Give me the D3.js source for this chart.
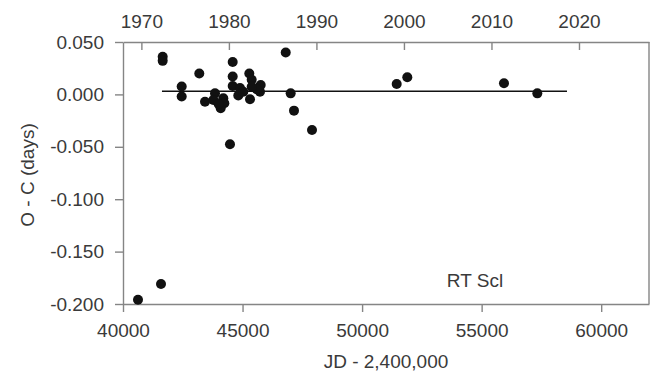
<!DOCTYPE html>
<html>
<head>
<meta charset="utf-8">
<script src="https://cdn.jsdelivr.net/npm/d3@7"></script>
<style>
  body { margin: 0; background: #fff; }
  text { font-family: "Liberation Sans", Arial, sans-serif; fill: #3a3a3a; }
</style>
</head>
<body>
<div id="chart"></div>
<script>
// O-C values (days), JD - 2,400,000
var jdValues = [40627, 41589, 41660, 41660, 42455, 42455, 43191, 43430, 43848, 43777,
                44195, 44237, 44086, 44000, 44588, 44588, 44588, 44475, 45283, 45383,
                44894, 44822, 45032, 45312, 45759, 45730, 45592, 45383, 46806, 47013,
                47152, 47905, 51447, 51891, 55935, 57329];
var ocValues = [-0.196, -0.181, 0.036, 0.032, 0.0075, -0.002, 0.020, -0.007, 0.001, -0.0053,
                -0.0037, -0.0085, -0.0133, -0.0092, 0.031, 0.017, 0.008, -0.0476, 0.020, 0.014,
                0.006, -0.001, 0.0026, -0.0047, 0.009, 0.0026, 0.005, 0.0073, 0.040, 0.001,
                -0.0155, -0.034, 0.0099, 0.0163, 0.0106, 0.001];

// linear ephemeris line
var fitJd = [41630, 58570];
var fitOc = 0.003;

var yTicks = [0.05, 0, -0.05, -0.1, -0.15, -0.2];
var xTicks = [40000, 45000, 50000, 55000, 60000];
var yearTicks = [1970, 1980, 1990, 2000, 2010, 2020];

var w = 659, h = 376;
// plot box edges (window.top is taken, so use other names)
var pLeft = 123, pRight = 649, pTop = 42, pBottom = 304;

var svg = d3.select("#chart")
    .append("svg")
    .attr("width", w)
    .attr("height", h);

var x = d3.scaleLinear().domain([40000, 62000]).range([pLeft, pRight]);
var y = d3.scaleLinear().domain([-0.2, 0.05]).range([pBottom, pTop]);
// top calendar axis is its own linear scale
var yr = d3.scaleLinear().domain([1967.9, 2028]).range([pLeft, pRight]);

var axisColor = "#858585";

function styleAxis(g) {
    g.selectAll("path, line").attr("stroke", axisColor).attr("stroke-width", 1.4);
    g.selectAll("text")
        .style("font-family", "'Liberation Sans', Arial, sans-serif")
        .style("font-size", "19px")
        .attr("fill", "#3a3a3a");
}

svg.append("g")
    .attr("transform", "translate(0," + pBottom + ")")
    .call(d3.axisBottom(x).tickValues(xTicks).tickFormat(d3.format("d"))
        .tickSize(8).tickSizeOuter(0).tickPadding(12))
    .call(styleAxis);

svg.append("g")
    .attr("transform", "translate(" + pLeft + ",0)")
    .call(d3.axisLeft(y).tickValues(yTicks)
        .tickFormat(function (d) { return d3.format(".3f")(d).replace("−", "-"); })
        .tickSize(8).tickSizeOuter(0).tickPadding(11))
    .call(styleAxis);

svg.append("g")
    .attr("transform", "translate(0," + pTop + ")")
    .call(d3.axisTop(yr).tickValues(yearTicks).tickFormat(d3.format("d"))
        .tickSize(-8).tickSizeOuter(0).tickPadding(14))
    .call(styleAxis);

// right border
svg.append("line")
    .attr("x1", pRight).attr("x2", pRight)
    .attr("y1", pTop).attr("y2", pBottom)
    .attr("stroke", axisColor)
    .attr("stroke-width", 1.4);

// fit line
svg.append("line")
    .attr("x1", x(fitJd[0])).attr("x2", x(fitJd[1]))
    .attr("y1", y(fitOc)).attr("y2", y(fitOc))
    .attr("stroke", "#111")
    .attr("stroke-width", 1.5);

svg.selectAll("circle")
    .data(jdValues)
    .enter()
    .append("circle")
    .attr("cx", function (d) { return x(d); })
    .attr("cy", function (d, i) { return y(ocValues[i]); })
    .attr("r", 5)
    .attr("fill", "#111");

svg.append("text")
    .attr("x", 475).attr("y", 287)
    .attr("text-anchor", "middle")
    .style("font-size", "19px")
    .text("RT Scl");

svg.append("text")
    .attr("x", (pLeft + pRight) / 2).attr("y", 368)
    .attr("text-anchor", "middle")
    .style("font-size", "19px")
    .text("JD - 2,400,000");

svg.append("text")
    .attr("transform", "translate(34,175) rotate(-90)")
    .attr("text-anchor", "middle")
    .style("font-size", "19px")
    .text("O - C (days)");
</script>
</body>
</html>
